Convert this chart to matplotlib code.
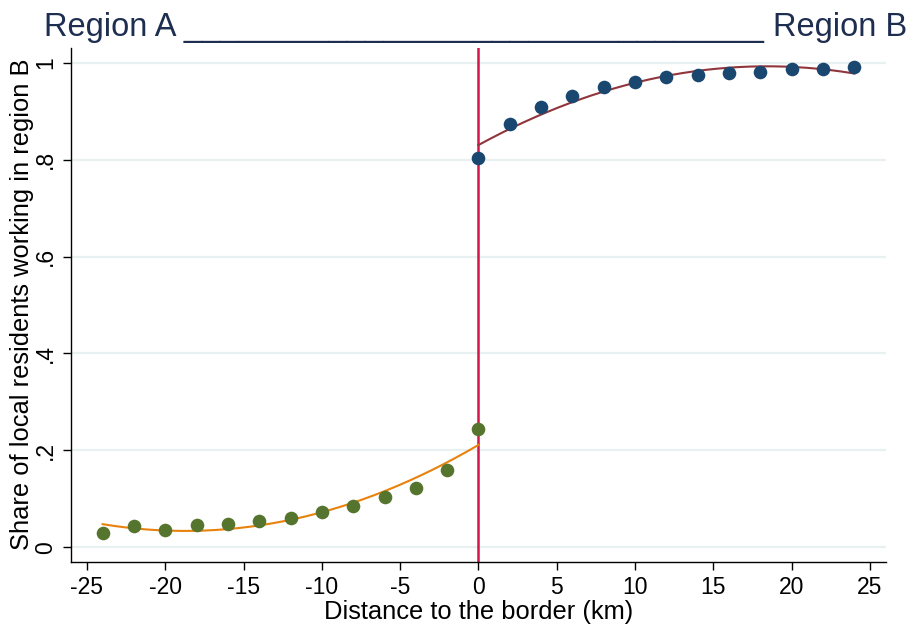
import numpy as np
import matplotlib
matplotlib.use("Agg")
import matplotlib.pyplot as plt

# binned shares by distance to the border (km), negative = region A side
dist_a = [-24, -22, -20, -18, -16, -14, -12, -10, -8, -6, -4, -2, 0]
share_a = [0.030, 0.043, 0.036, 0.046, 0.047, 0.053, 0.061, 0.072, 0.084,
           0.103, 0.123, 0.160, 0.244]
dist_b = [0, 2, 4, 6, 8, 10, 12, 14, 16, 18, 20, 22, 24]
share_b = [0.803, 0.874, 0.909, 0.931, 0.949, 0.961, 0.970, 0.975, 0.979,
           0.981, 0.988, 0.987, 0.992]

xticks = list(range(-25, 30, 5))
yticks = [0, 0.2, 0.4, 0.6, 0.8, 1.0]
ytick_labels = ["0", ".2", ".4", ".6", ".8", "1"]

NAVY = "#1a476f"; GREEN = "#55752f"; ORANGE = "#e8820c"; MAROON = "#90353b"
CRIMSON = "#d3164a"; GRID = "#e8f0f2"; TITLE = "#1e2e50"

plt.rcParams.update({
    "font.family": ["Liberation Sans", "DejaVu Sans"],
    "axes.unicode_minus": False,
})

fig = plt.figure(figsize=(9.14, 6.28), dpi=100)
ax = fig.add_axes([0.078, 0.1056, 0.891, 0.8184])

# quadratic fits on each side of the border
def qfit(x, y):
    c = np.polyfit(x, y, 2)
    xs = np.linspace(min(x), max(x), 200)
    return xs, np.polyval(c, xs)

for y in yticks:
    ax.axhline(y, color=GRID, lw=1.6, zorder=0)

xa, ya = qfit(dist_a, share_a)
xb, yb = qfit(dist_b, share_b)
ax.plot(xa, ya, color=ORANGE, lw=1.5, zorder=3)
ax.plot(xb, yb, color=MAROON, lw=1.5, zorder=3)
ax.plot(dist_a, share_a, "o", ms=9.8, color=GREEN, mec="none", zorder=4)
ax.plot(dist_b, share_b, "o", ms=9.8, color=NAVY, mec="none", zorder=4)
ax.axvline(0, color=CRIMSON, lw=1.8, zorder=2)

ax.set_xlim(-26, 26)
ax.set_ylim(-0.030, 1.031)
ax.set_xticks(xticks)
ax.set_xticklabels([str(t) for t in xticks])
ax.set_yticks(yticks)
ax.set_yticklabels(ytick_labels, rotation=90, va="center")
ax.tick_params(labelsize=16.5, length=5.8, width=1.0, color="black", pad=4.3)
ax.spines[["top", "right"]].set_visible(False)
ax.spines[["left", "bottom"]].set_linewidth(1.0)

ax.set_xlabel("Distance to the border (km)", fontsize=18.4, labelpad=1)
ax.set_ylabel("Share of local residents working in region B", fontsize=18.4,
              labelpad=0)

fig.text(0.52, 0.956, "Region A " + "_" * 32 + " Region B", fontsize=23.5,
         color=TITLE, ha="center", va="center")

fig.savefig("out.png", dpi=100)
